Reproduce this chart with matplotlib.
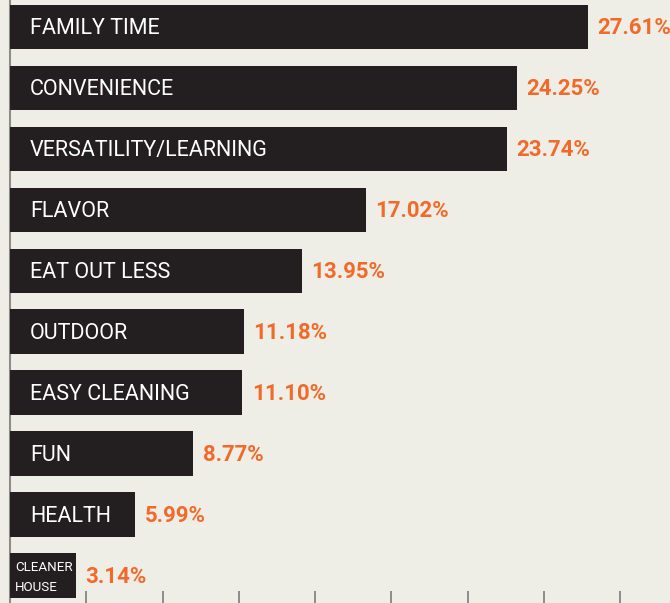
import matplotlib.pyplot as plt
import numpy as np

categories = ["FAMILY TIME", "CONVENIENCE", "VERSATILITY/LEARNING", "FLAVOR",
              "EAT OUT LESS", "OUTDOOR", "EASY CLEANING", "FUN", "HEALTH",
              "CLEANER\nHOUSE"]
values = [27.61, 24.25, 23.74, 17.02, 13.95, 11.18, 11.10, 8.77, 5.99, 3.14]

bg = "#efeee6"
bar_color = "#231f20"
orange = "#f26a2a"
font = ["Roboto", "DejaVu Sans"]

fig = plt.figure(figsize=(6.7, 6.03), dpi=100, facecolor=bg)
ax = fig.add_axes([10 / 670, 0, 660 / 670, 1])
ax.set_facecolor(bg)

y = np.arange(len(categories))
ax.barh(y, values, height=0.73, color=bar_color, zorder=3)

for i, (cat, v) in enumerate(zip(categories, values)):
    small = "\n" in cat
    ax.text(0.25 if small else 0.96, i + 0.03, cat, color="white", va="center", ha="left",
            fontsize=9.6 if small else 15.5, family=font, zorder=4,
            linespacing=1.7)
    ax.text(v + 0.45, i + 0.02, f"{v:.2f}%", color=orange, va="center", ha="left",
            fontsize=16, fontweight="bold", family=font, zorder=4)

ax.set_xlim(0, 660 / 20.92)
ax.set_ylim(9.452, -0.443)
ax.set_xticks(np.arange(1, 9) * 3.646)
ax.set_xticklabels([])
ax.set_yticks([])
ax.tick_params(axis="x", direction="in", length=8.5, width=1.4, color="#8c8c8c")
for s in ["top", "right", "bottom"]:
    ax.spines[s].set_visible(False)
ax.spines["left"].set_color("#8c8c8c")
ax.spines["left"].set_linewidth(1.5)

plt.savefig("out.png", dpi=100, facecolor=bg)
plt.close()
